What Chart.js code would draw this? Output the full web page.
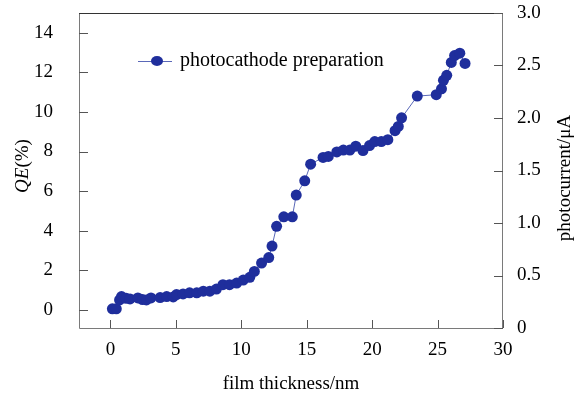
<!DOCTYPE html>
<html>
<head>
<meta charset="utf-8">
<script src="https://cdn.jsdelivr.net/npm/chart.js@4"></script>
<style>
  html, body { margin: 0; padding: 0; background: #fff; }
  #wrap { width: 574px; height: 395px; }
</style>
</head>
<body>
<div id="wrap"><canvas id="chart" width="574" height="395"></canvas></div>
<script>
const thickness = [0.15, 0.45, 0.7, 0.85, 1.2, 1.5, 2.1, 2.45, 2.75, 3.1, 3.8, 4.3, 4.8, 5.05, 5.55,
  6.05, 6.6, 7.1, 7.6, 8.1, 8.6, 9.1, 9.65, 10.15, 10.65, 11.0, 11.55, 12.1, 12.35, 12.7,
  13.25, 13.9, 14.2, 14.85, 15.3, 16.25, 16.65, 17.3, 17.8, 18.3, 18.75, 19.3, 19.8, 20.2,
  20.7, 21.2, 21.75, 22.0, 22.25, 23.45, 24.9, 25.3, 25.45, 25.7, 26.05, 26.3, 26.7, 27.1];
const qe = [0.05, 0.05, 0.5, 0.67, 0.58, 0.55, 0.6, 0.52, 0.5, 0.6, 0.62, 0.67, 0.65, 0.77, 0.8,
  0.86, 0.86, 0.94, 0.94, 1.05, 1.27, 1.27, 1.35, 1.5, 1.64, 1.94, 2.36, 2.64, 3.22, 4.22,
  4.7, 4.7, 5.8, 6.52, 7.36, 7.7, 7.75, 7.98, 8.07, 8.07, 8.27, 8.05, 8.3, 8.5,
  8.5, 8.6, 9.05, 9.27, 9.7, 10.8, 10.87, 11.17, 11.6, 11.85, 12.5, 12.85, 12.97, 12.45];
const xTicks = [0, 5, 10, 15, 20, 25, 30];
const qeTicks = [0, 2, 4, 6, 8, 10, 12, 14];
const currentTicks = [0, 0.5, 1.0, 1.5, 2.0, 2.5, 3.0];
const seriesName = 'photocathode preparation';

const serif = "'Liberation Serif', 'Times New Roman', serif";
const markColor = '#1f2e9c';
const lineColor = '#5a68b8';
const fontSize = 19;

const boxAndTicks = {
  id: 'boxAndTicks',
  afterDraw(chart) {
    const ctx = chart.ctx;
    const { left, right, top, bottom } = chart.chartArea;
    const { x, y, y2 } = chart.scales;
    ctx.save();
    ctx.lineWidth = 1;
    ctx.strokeStyle = '#7a7a7a';
    ctx.beginPath();
    ctx.moveTo(left + 0.5, top);
    ctx.lineTo(left + 0.5, bottom + 0.5);
    ctx.lineTo(right - 0.5, bottom + 0.5);
    ctx.lineTo(right - 0.5, top);
    ctx.stroke();
    ctx.strokeStyle = '#333';
    ctx.beginPath();
    ctx.moveTo(left, top + 0.5);
    ctx.lineTo(right, top + 0.5);
    ctx.stroke();

    ctx.strokeStyle = '#555';
    ctx.beginPath();
    qeTicks.forEach(v => {
      const p = Math.round(y.getPixelForValue(v)) + 0.5;
      ctx.moveTo(left, p); ctx.lineTo(left + 9, p);
    });
    xTicks.forEach(v => {
      const p = Math.round(x.getPixelForValue(v)) + 0.5;
      ctx.moveTo(p, bottom); ctx.lineTo(p, bottom - 8);
    });
    currentTicks.forEach(v => {
      const p = Math.round(y2.getPixelForValue(v)) + 0.5;
      ctx.moveTo(right, p); ctx.lineTo(right - 9, p);
    });
    ctx.stroke();

    // legend
    const ly = 61;
    ctx.strokeStyle = lineColor;
    ctx.beginPath();
    ctx.moveTo(138, ly + 0.5); ctx.lineTo(172, ly + 0.5);
    ctx.stroke();
    ctx.fillStyle = markColor;
    ctx.beginPath();
    ctx.ellipse(157, ly, 6, 5, 0, 0, Math.PI * 2);
    ctx.fill();
    ctx.fillStyle = '#000';
    ctx.font = '20px ' + serif;
    ctx.textBaseline = 'middle';
    ctx.textAlign = 'left';
    ctx.fillText(seriesName, 180, ly);

    // left axis title with italic QE
    ctx.save();
    ctx.translate(23, 166);
    ctx.rotate(-Math.PI / 2);
    ctx.font = 'italic ' + fontSize + 'px ' + serif;
    const w1 = ctx.measureText('QE').width;
    ctx.font = fontSize + 'px ' + serif;
    const w2 = ctx.measureText('(%)').width;
    const start = -(w1 + w2) / 2;
    ctx.font = 'italic ' + fontSize + 'px ' + serif;
    ctx.fillText('QE', start, 0);
    ctx.font = fontSize + 'px ' + serif;
    ctx.fillText('(%)', start + w1, 0);
    ctx.restore();

    // right axis title, reading bottom to top
    ctx.save();
    ctx.translate(565, 178);
    ctx.rotate(-Math.PI / 2);
    ctx.textAlign = 'center';
    ctx.font = fontSize + 'px ' + serif;
    ctx.fillText('photocurrent/μA', 0, 0);
    ctx.restore();
    ctx.restore();
  }
};

const points = thickness.map((t, i) => ({ x: t, y: qe[i] }));

new Chart(document.getElementById('chart'), {
  type: 'line',
  data: {
    datasets: [{
      label: seriesName,
      data: points,
      yAxisID: 'y',
      borderColor: lineColor,
      borderWidth: 1,
      pointBackgroundColor: markColor,
      pointBorderColor: markColor,
      pointRadius: 5.5,
      pointBorderWidth: 0,
      tension: 0,
      fill: false
    }]
  },
  options: {
    responsive: false,
    animation: false,
    layout: { padding: { top: 13, left: 0, right: 0, bottom: 0 } },
    plugins: { legend: { display: false }, tooltip: { enabled: false } },
    scales: {
      x: {
        type: 'linear',
        min: -2.4,
        max: 30,
        afterBuildTicks: s => { s.ticks = xTicks.map(v => ({ value: v })); },
        afterFit: s => { s.height = 67; s.paddingLeft = 0; s.paddingRight = 0; },
        grid: { display: false, drawTicks: false },
        border: { display: false },
        ticks: { color: '#000', font: { family: serif, size: fontSize }, padding: 11, maxRotation: 0 },
        title: { display: true, text: 'film thickness/nm', color: '#000', font: { family: serif, size: fontSize }, padding: { top: 4, bottom: 0 } }
      },
      y: {
        type: 'linear',
        position: 'left',
        min: -0.92,
        max: 15,
        afterBuildTicks: s => { s.ticks = qeTicks.map(v => ({ value: v })); },
        afterFit: s => { s.width = 79; s.paddingTop = 0; s.paddingBottom = 0; },
        grid: { display: false, drawTicks: false },
        border: { display: false },
        ticks: { color: '#000', font: { family: serif, size: fontSize }, padding: 26 }
      },
      y2: {
        type: 'linear',
        position: 'right',
        min: 0,
        max: 3,
        afterBuildTicks: s => { s.ticks = currentTicks.map(v => ({ value: v })); },
        afterFit: s => { s.width = 71; s.paddingTop = 0; s.paddingBottom = 0; },
        grid: { display: false, drawTicks: false },
        border: { display: false },
        ticks: {
          color: '#000', font: { family: serif, size: fontSize }, padding: 14,
          callback: v => v === 0 ? '0' : v.toFixed(1)
        }
      }
    }
  },
  plugins: [boxAndTicks]
});
</script>
</body>
</html>
